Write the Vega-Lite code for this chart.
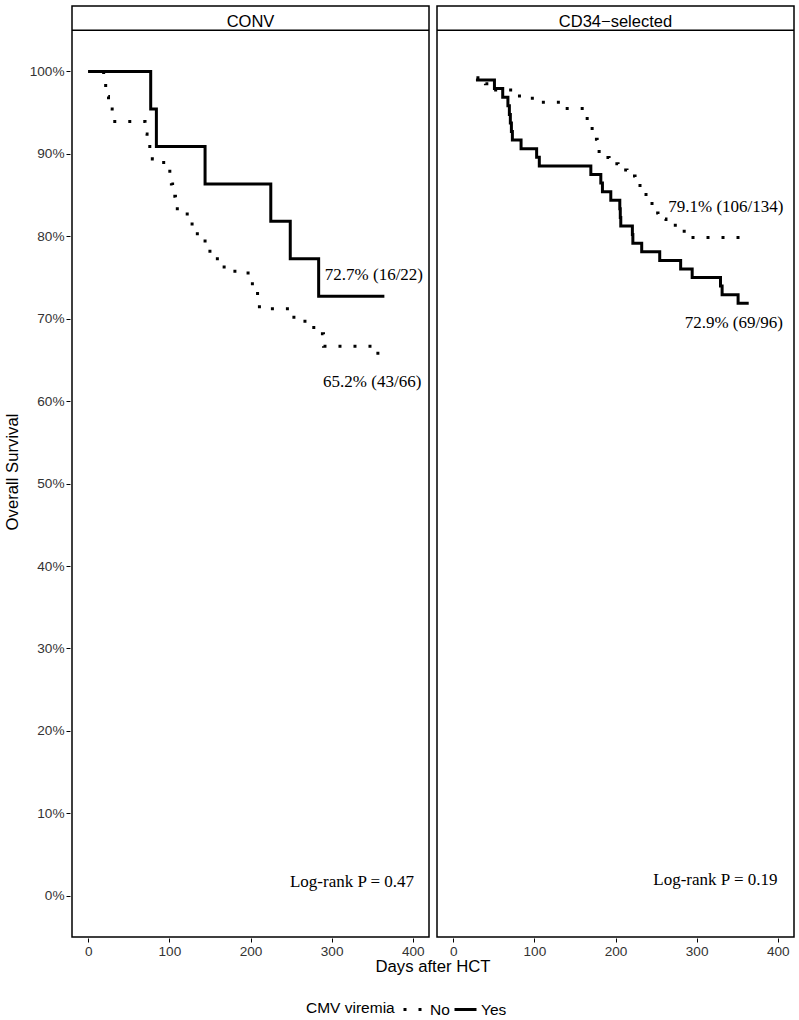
{
  "$schema": "https://vega.github.io/schema/vega-lite/v6.json",
  "background": "white",
  "padding": {"left": 4, "right": 5, "top": 5, "bottom": 5},
  "config": {
    "font": "Liberation Sans",
    "view": {"stroke": "black", "strokeWidth": 1.5, "fill": "white"},
    "axis": {"domain": false, "grid": false, "tickColor": "black", "tickSize": 4, "tickWidth": 1, "labelFont": "Liberation Sans", "labelFontSize": 13.6, "labelColor": "#333333", "labelPadding": 2, "titleFont": "Liberation Sans", "titleFontSize": 16.7, "titleFontWeight": "normal", "titleColor": "black"}
  },
  "data": {"values": [
    {"panel": "CONV", "kind": "curve", "group": "Yes", "day": 0, "surv": 1.0},
    {"panel": "CONV", "kind": "curve", "group": "Yes", "day": 77, "surv": 0.9545},
    {"panel": "CONV", "kind": "curve", "group": "Yes", "day": 84, "surv": 0.9091},
    {"panel": "CONV", "kind": "curve", "group": "Yes", "day": 144, "surv": 0.8636},
    {"panel": "CONV", "kind": "curve", "group": "Yes", "day": 225, "surv": 0.8182},
    {"panel": "CONV", "kind": "curve", "group": "Yes", "day": 249, "surv": 0.7727},
    {"panel": "CONV", "kind": "curve", "group": "Yes", "day": 284, "surv": 0.7273},
    {"panel": "CONV", "kind": "curve", "group": "Yes", "day": 365, "surv": 0.7273},
    {"panel": "CONV", "kind": "curve", "group": "No", "day": 0, "surv": 1.0},
    {"panel": "CONV", "kind": "curve", "group": "No", "day": 19, "surv": 0.9848},
    {"panel": "CONV", "kind": "curve", "group": "No", "day": 21.5, "surv": 0.9697},
    {"panel": "CONV", "kind": "curve", "group": "No", "day": 25, "surv": 0.9545},
    {"panel": "CONV", "kind": "curve", "group": "No", "day": 29.5, "surv": 0.9394},
    {"panel": "CONV", "kind": "curve", "group": "No", "day": 70, "surv": 0.9242},
    {"panel": "CONV", "kind": "curve", "group": "No", "day": 72.5, "surv": 0.9091},
    {"panel": "CONV", "kind": "curve", "group": "No", "day": 79, "surv": 0.8939},
    {"panel": "CONV", "kind": "curve", "group": "No", "day": 93, "surv": 0.8788},
    {"panel": "CONV", "kind": "curve", "group": "No", "day": 102.5, "surv": 0.8636},
    {"panel": "CONV", "kind": "curve", "group": "No", "day": 104, "surv": 0.8485},
    {"panel": "CONV", "kind": "curve", "group": "No", "day": 107.5, "surv": 0.8333},
    {"panel": "CONV", "kind": "curve", "group": "No", "day": 122, "surv": 0.8182},
    {"panel": "CONV", "kind": "curve", "group": "No", "day": 128, "surv": 0.803},
    {"panel": "CONV", "kind": "curve", "group": "No", "day": 144, "surv": 0.7879},
    {"panel": "CONV", "kind": "curve", "group": "No", "day": 150, "surv": 0.7727},
    {"panel": "CONV", "kind": "curve", "group": "No", "day": 167.5, "surv": 0.7576},
    {"panel": "CONV", "kind": "curve", "group": "No", "day": 197, "surv": 0.7424},
    {"panel": "CONV", "kind": "curve", "group": "No", "day": 208.7, "surv": 0.7273},
    {"panel": "CONV", "kind": "curve", "group": "No", "day": 211, "surv": 0.7121},
    {"panel": "CONV", "kind": "curve", "group": "No", "day": 253.5, "surv": 0.697},
    {"panel": "CONV", "kind": "curve", "group": "No", "day": 278, "surv": 0.6818},
    {"panel": "CONV", "kind": "curve", "group": "No", "day": 290, "surv": 0.6667},
    {"panel": "CONV", "kind": "curve", "group": "No", "day": 357, "surv": 0.6515},
    {"panel": "CONV", "kind": "curve", "group": "No", "day": 364, "surv": 0.6515},
    {"panel": "CD34−selected", "kind": "curve", "group": "Yes", "day": 28, "surv": 0.9896},
    {"panel": "CD34−selected", "kind": "curve", "group": "Yes", "day": 50.8, "surv": 0.9792},
    {"panel": "CD34−selected", "kind": "curve", "group": "Yes", "day": 61, "surv": 0.9688},
    {"panel": "CD34−selected", "kind": "curve", "group": "Yes", "day": 67.4, "surv": 0.9583},
    {"panel": "CD34−selected", "kind": "curve", "group": "Yes", "day": 69.2, "surv": 0.9479},
    {"panel": "CD34−selected", "kind": "curve", "group": "Yes", "day": 70.4, "surv": 0.9375},
    {"panel": "CD34−selected", "kind": "curve", "group": "Yes", "day": 71.7, "surv": 0.9271},
    {"panel": "CD34−selected", "kind": "curve", "group": "Yes", "day": 72.9, "surv": 0.9167},
    {"panel": "CD34−selected", "kind": "curve", "group": "Yes", "day": 83.6, "surv": 0.9063},
    {"panel": "CD34−selected", "kind": "curve", "group": "Yes", "day": 102.8, "surv": 0.8958},
    {"panel": "CD34−selected", "kind": "curve", "group": "Yes", "day": 106.1, "surv": 0.8854},
    {"panel": "CD34−selected", "kind": "curve", "group": "Yes", "day": 169.6, "surv": 0.875},
    {"panel": "CD34−selected", "kind": "curve", "group": "Yes", "day": 181.9, "surv": 0.8646},
    {"panel": "CD34−selected", "kind": "curve", "group": "Yes", "day": 183.9, "surv": 0.8542},
    {"panel": "CD34−selected", "kind": "curve", "group": "Yes", "day": 194.2, "surv": 0.8438},
    {"panel": "CD34−selected", "kind": "curve", "group": "Yes", "day": 205.3, "surv": 0.8333},
    {"panel": "CD34−selected", "kind": "curve", "group": "Yes", "day": 205.9, "surv": 0.8229},
    {"panel": "CD34−selected", "kind": "curve", "group": "Yes", "day": 206.5, "surv": 0.8125},
    {"panel": "CD34−selected", "kind": "curve", "group": "Yes", "day": 220.8, "surv": 0.8021},
    {"panel": "CD34−selected", "kind": "curve", "group": "Yes", "day": 221.4, "surv": 0.7917},
    {"panel": "CD34−selected", "kind": "curve", "group": "Yes", "day": 232.3, "surv": 0.7813},
    {"panel": "CD34−selected", "kind": "curve", "group": "Yes", "day": 254.5, "surv": 0.7708},
    {"panel": "CD34−selected", "kind": "curve", "group": "Yes", "day": 280.3, "surv": 0.7604},
    {"panel": "CD34−selected", "kind": "curve", "group": "Yes", "day": 294.5, "surv": 0.75},
    {"panel": "CD34−selected", "kind": "curve", "group": "Yes", "day": 329.4, "surv": 0.7396},
    {"panel": "CD34−selected", "kind": "curve", "group": "Yes", "day": 331.4, "surv": 0.7292},
    {"panel": "CD34−selected", "kind": "curve", "group": "Yes", "day": 351.1, "surv": 0.7188},
    {"panel": "CD34−selected", "kind": "curve", "group": "Yes", "day": 364.2, "surv": 0.7188},
    {"panel": "CD34−selected", "kind": "curve", "group": "No", "day": 28.6, "surv": 0.9925},
    {"panel": "CD34−selected", "kind": "curve", "group": "No", "day": 39.7, "surv": 0.9851},
    {"panel": "CD34−selected", "kind": "curve", "group": "No", "day": 43.4, "surv": 0.9776},
    {"panel": "CD34−selected", "kind": "curve", "group": "No", "day": 79.0, "surv": 0.9701},
    {"panel": "CD34−selected", "kind": "curve", "group": "No", "day": 97.5, "surv": 0.9627},
    {"panel": "CD34−selected", "kind": "curve", "group": "No", "day": 135.6, "surv": 0.9552},
    {"panel": "CD34−selected", "kind": "curve", "group": "No", "day": 162.6, "surv": 0.9478},
    {"panel": "CD34−selected", "kind": "curve", "group": "No", "day": 165.1, "surv": 0.9403},
    {"panel": "CD34−selected", "kind": "curve", "group": "No", "day": 167.5, "surv": 0.9328},
    {"panel": "CD34−selected", "kind": "curve", "group": "No", "day": 171.2, "surv": 0.9254},
    {"panel": "CD34−selected", "kind": "curve", "group": "No", "day": 173.7, "surv": 0.9179},
    {"panel": "CD34−selected", "kind": "curve", "group": "No", "day": 177.4, "surv": 0.9104},
    {"panel": "CD34−selected", "kind": "curve", "group": "No", "day": 179.8, "surv": 0.903},
    {"panel": "CD34−selected", "kind": "curve", "group": "No", "day": 183.5, "surv": 0.8955},
    {"panel": "CD34−selected", "kind": "curve", "group": "No", "day": 192.1, "surv": 0.8881},
    {"panel": "CD34−selected", "kind": "curve", "group": "No", "day": 203.2, "surv": 0.8806},
    {"panel": "CD34−selected", "kind": "curve", "group": "No", "day": 214.2, "surv": 0.8731},
    {"panel": "CD34−selected", "kind": "curve", "group": "No", "day": 224.1, "surv": 0.8657},
    {"panel": "CD34−selected", "kind": "curve", "group": "No", "day": 230.2, "surv": 0.8582},
    {"panel": "CD34−selected", "kind": "curve", "group": "No", "day": 232.7, "surv": 0.8507},
    {"panel": "CD34−selected", "kind": "curve", "group": "No", "day": 237.6, "surv": 0.8433},
    {"panel": "CD34−selected", "kind": "curve", "group": "No", "day": 245.0, "surv": 0.8358},
    {"panel": "CD34−selected", "kind": "curve", "group": "No", "day": 247.5, "surv": 0.8284},
    {"panel": "CD34−selected", "kind": "curve", "group": "No", "day": 252.4, "surv": 0.8209},
    {"panel": "CD34−selected", "kind": "curve", "group": "No", "day": 262.2, "surv": 0.8134},
    {"panel": "CD34−selected", "kind": "curve", "group": "No", "day": 279.4, "surv": 0.806},
    {"panel": "CD34−selected", "kind": "curve", "group": "No", "day": 288.1, "surv": 0.7985},
    {"panel": "CD34−selected", "kind": "curve", "group": "No", "day": 360.5, "surv": 0.7985},
    {"panel": "CONV", "kind": "label", "day": 291.6, "surv": 0.7465, "label": "72.7% (16/22)"},
    {"panel": "CONV", "kind": "label", "day": 289.5, "surv": 0.6173, "label": "65.2% (43/66)"},
    {"panel": "CONV", "kind": "label", "day": 248.6, "surv": 0.0104, "label": "Log-rank P = 0.47"},
    {"panel": "CD34−selected", "kind": "label", "day": 265, "surv": 0.8293, "label": "79.1% (106/134)"},
    {"panel": "CD34−selected", "kind": "label", "day": 285.2, "surv": 0.6886, "label": "72.9% (69/96)"},
    {"panel": "CD34−selected", "kind": "label", "day": 246.6, "surv": 0.0125, "label": "Log-rank P = 0.19"}
  ]},
  "facet": {
    "column": {
      "field": "panel", "type": "nominal", "sort": ["CONV", "CD34−selected"],
      "title": "Days after HCT",
      "header": {"labels": false, "titleOrient": "bottom", "titleFont": "Liberation Sans", "titleFontSize": 16.7, "titleFontWeight": "normal", "titleColor": "black", "titlePadding": -9}
    }
  },
  "spacing": 4,
  "spec": {
    "width": 357,
    "height": 931,
    "layer": [
      {
        "transform": [{"filter": "datum.kind === 'curve'"}],
        "mark": {"type": "line", "interpolate": "step-after", "strokeWidth": 3, "color": "black", "strokeCap": "butt"},
        "encoding": {
          "x": {"field": "day", "type": "quantitative", "scale": {"domain": [-20, 420], "nice": false, "zero": false}, "axis": {"values": [0, 100, 200, 300, 400], "title": null}},
          "y": {"field": "surv", "type": "quantitative", "scale": {"domain": [-0.05, 1.0794], "nice": false, "zero": false}, "axis": {"values": [0, 0.1, 0.2, 0.3, 0.4, 0.5, 0.6, 0.7, 0.8, 0.9, 1.0], "format": ".0%", "title": "Overall Survival", "titlePadding": 8}},
          "strokeDash": {
            "field": "group", "type": "nominal",
            "scale": {"domain": ["No", "Yes"], "range": [[3, 12], [1, 0]]},
            "legend": {"title": "CMV viremia", "orient": "none", "legendX": 234, "legendY": 991, "padding": 0, "direction": "horizontal", "titleOrient": "left", "titlePadding": 7, "titleAnchor": "middle", "titleBaseline": "middle", "symbolType": "stroke", "symbolStrokeWidth": 3, "symbolSize": 484, "symbolStrokeColor": "black", "labelOffset": 3, "columnPadding": -2, "labelFont": "Liberation Sans", "labelFontSize": 15.5, "labelColor": "black", "titleFont": "Liberation Sans", "titleFontSize": 15.5, "titleFontWeight": "normal", "titleColor": "black"}
          }
        }
      },
      {
        "transform": [{"filter": "datum.kind === 'curve'"}, {"aggregate": [{"op": "count", "as": "n"}], "groupby": ["panel"]}],
        "mark": {"type": "rule", "color": "black", "strokeWidth": 1.5},
        "encoding": {"y": {"datum": 1.05}}
      },
      {
        "transform": [{"filter": "datum.kind === 'curve'"}, {"aggregate": [{"op": "count", "as": "n"}], "groupby": ["panel"]}],
        "mark": {"type": "text", "font": "Liberation Sans", "fontSize": 16.5, "baseline": "alphabetic", "align": "center", "color": "black"},
        "encoding": {"text": {"field": "panel"}, "y": {"datum": 1.0542}}
      },
      {
        "transform": [{"filter": "datum.kind === 'label'"}],
        "mark": {"type": "text", "font": "Liberation Serif", "fontSize": 17, "align": "left", "baseline": "alphabetic", "color": "black"},
        "encoding": {
          "x": {"field": "day", "type": "quantitative"},
          "y": {"field": "surv", "type": "quantitative"},
          "text": {"field": "label"}
        }
      }
    ]
  }
}
